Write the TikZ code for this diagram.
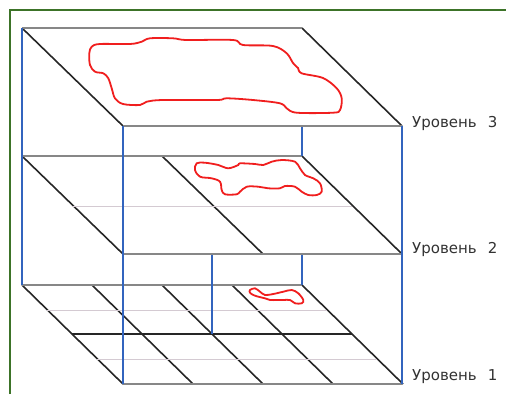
\documentclass[tikz,border=0pt]{standalone}
\usepackage{fontspec}
\setmainfont{DejaVu Sans}
\definecolor{frameg}{RGB}{60,115,40}
\definecolor{edgeg}{RGB}{135,135,135}
\definecolor{faintg}{RGB}{212,202,210}
\definecolor{pillar}{RGB}{50,100,190}
\definecolor{blob}{RGB}{240,30,30}
\definecolor{txt}{RGB}{50,50,50}
\tikzset{
  diag/.style={draw=black!85, line width=1.6pt},
  hedge/.style={draw=edgeg, line width=1.1pt},
  faint/.style={draw=faintg, line width=0.9pt},
  post/.style={draw=pillar, line width=1.5pt},
  zone/.style={draw=blob, line width=1.8pt, smooth cycle, tension=0.55},
  lvl/.style={anchor=base west, text=txt, font=\fontsize{15}{17}\selectfont, inner sep=0pt}
}
\begin{document}
\begin{tikzpicture}[x=1pt,y=-1pt]
\useasboundingbox (0,0) rectangle (506,394);
% green frame
\draw[frameg, line width=2.5pt] (10,394) -- (10,10) -- (506,10);

% ---------- Level 1 ----------
\foreach \b in {22,92,162,232,302} {
  \draw[diag] (\b,285) -- ({\b+101},384);
}
\draw[hedge] (22,285) -- (302,285);
\draw[faint] (47,310) -- (327,310);
\draw[diag, line width=1.4pt] (72,334) -- (352,334);
\draw[faint] (97,359) -- (377,359);
\draw[hedge] (123,384) -- (402,384);

% hidden-part pillars between level 1 and 2
\draw[post] (212,254) -- (212,334);
\draw[post] (302,254) -- (302,285);

% ---------- Level 2 ----------
\draw[diag] (22,156) -- (123,254);
\draw[diag] (162,156) -- (263,254);
\draw[diag] (302,156) -- (402,254);
\draw[hedge] (22,156) -- (302,156);
\draw[faint] (72,206) -- (352,206);
\draw[hedge] (123,254) -- (402,254);

% pillar between level 2 and 3
\draw[post] (302,126) -- (302,156);

% ---------- Level 3 ----------
\draw[diag] (22,28) -- (123,126);
\draw[diag] (302,28) -- (402,126);
\draw[hedge] (22,28) -- (302,28);
\draw[hedge] (123,126) -- (402,126);

% front and back verticals
\draw[post] (22,28) -- (22,285);
\draw[post] (123,126) -- (123,384);
\draw[post] (402,126) -- (402,384);

% ---------- zones ----------
\draw[zone] plot coordinates {(91.7,46.7) (100,44) (130,44) (141.7,41.7) (150,38.3) (173,38.3) (186.7,40) (233,40) (243,45) (273,46) (286.7,53.3) (293,63) (298,68) (301.7,73.3) (323,78) (336.7,88.3) (341.7,98.3) (340,110) (333,112.7) (296.7,112.7) (286.7,108.3) (280,103.3) (253,100) (226.7,98.3) (216.7,100) (163,100) (146.7,101.7) (140,105) (123,104) (115,98.3) (111.7,88.3) (108.3,78.3) (103.3,73.3) (95,71.7) (90,65) (89.3,53.3)};
\draw[zone] plot coordinates {(196.7,163.3) (205,162.7) (218.3,165) (228.3,168.3) (238.3,165) (240,163.3) (255,164) (263.3,165) (271.7,161.7) (281.7,160) (295,161.7) (300,168.3) (305,175) (313.3,178.3) (320,183.3) (321.7,191.7) (316.7,195) (308.3,195) (301.7,191.7) (295,186.7) (285,186) (280,188.3) (268.3,188.3) (258.3,186.7) (246.7,186.7) (240,191.7) (236.7,194.3) (225,194.3) (221.7,190) (220,181.7) (211.7,178.3) (200,176.7) (195,170)};
\draw[zone] plot coordinates {(250,290) (255,288.3) (260,291.7) (265,295) (273.3,294) (283.3,291.7) (291.7,290) (298.3,293.3) (303.3,300) (301.7,303.3) (295,303.3) (290,300) (283.3,300) (276.7,300) (270,300) (265,298.3) (258.3,296.7) (253.3,295) (250,292.7)};

% ---------- labels ----------
\node[lvl] (l3) at (412,127) {Уровень\hspace{0.75em}3};
\node[lvl] (l2) at (412,253) {Уровень\hspace{0.75em}2};
\node[lvl] (l1) at (412,380) {Уровень\hspace{0.75em}1};
\end{tikzpicture}
\end{document}
